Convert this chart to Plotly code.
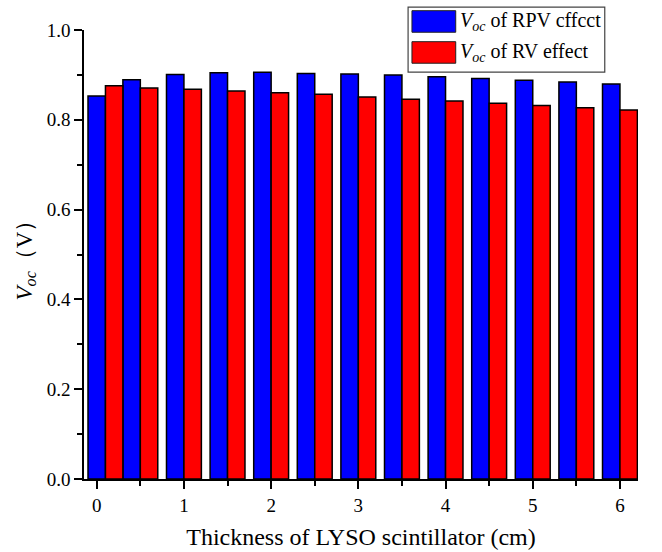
import plotly.graph_objects as go

thickness = [0.1, 0.5, 1, 1.5, 2, 2.5, 3, 3.5, 4, 4.5, 5, 5.5, 6]
voc_rpv = [0.853, 0.889, 0.901, 0.905, 0.906, 0.903, 0.902, 0.900, 0.896, 0.892, 0.888, 0.884, 0.880]
voc_rv = [0.876, 0.871, 0.868, 0.864, 0.860, 0.857, 0.851, 0.846, 0.842, 0.837, 0.832, 0.827, 0.822]
series_names = ["<i>V</i><sub><i>oc</i></sub> of RPV cffcct", "<i>V</i><sub><i>oc</i></sub> of RV effect"]
series_colors = ["#0000FF", "#FF0000"]

FONT = "Liberation Serif"

fig = go.Figure()
fig.add_trace(go.Bar(x=thickness, y=voc_rpv, name=series_names[0], width=0.2, offset=-0.2,
                     marker=dict(color=series_colors[0], line=dict(color="black", width=1.5)),
                     showlegend=False))
fig.add_trace(go.Bar(x=thickness, y=voc_rv, name=series_names[1], width=0.2, offset=0.0,
                     marker=dict(color=series_colors[1], line=dict(color="black", width=1.5)),
                     showlegend=False))

axis_common = dict(showgrid=False, zeroline=False, showline=True, linecolor="black", linewidth=1.6,
                   ticks="outside", ticklen=8, tickwidth=1.5, tickcolor="black",
                   tickfont=dict(family=FONT, size=19, color="black"))

fig.update_xaxes(range=[-0.146, 6.207], tick0=0, dtick=1, **axis_common,
                 minor=dict(dtick=0.5, ticklen=5, tickwidth=1.5, tickcolor="black", ticks="outside"),
                 title=dict(text="Thickness of LYSO scintillator (cm)",
                            font=dict(family=FONT, size=24, color="black"), standoff=14))
fig.update_yaxes(range=[0, 1.0], tick0=0, dtick=0.2, tickformat=".1f", **axis_common,
                 minor=dict(dtick=0.1, ticklen=5, tickwidth=1.5, tickcolor="black", ticks="outside"),
                 title=dict(text="<i>V</i><sub><i>oc</i></sub>（V）",
                            font=dict(family=FONT, size=23, color="black"), standoff=8))

# legend drawn by hand to mimic the large swatches of the original
shapes = [
    dict(type="rect", xref="paper", yref="paper", x0=0.585, x1=0.940, y0=0.906, y1=1.051,
         line=dict(color="#444444", width=1.2), fillcolor="white", layer="above"),
]
swatch_y = [(0.995, 1.043), (0.926, 0.974)]
text_y = [1.019, 0.950]
annotations = []
for i in range(2):
    shapes.append(dict(type="rect", xref="paper", yref="paper", x0=0.592, x1=0.671,
                       y0=swatch_y[i][0], y1=swatch_y[i][1],
                       line=dict(color="#222222", width=1), fillcolor=series_colors[i], layer="above"))
    annotations.append(dict(xref="paper", yref="paper", x=0.675, y=text_y[i], xanchor="left",
                            yanchor="middle", showarrow=False, text=series_names[i],
                            font=dict(family=FONT, size=20, color="black")))

fig.update_layout(
    width=662, height=552,
    margin=dict(l=84, r=24, t=30, b=73, autoexpand=False),
    paper_bgcolor="white", plot_bgcolor="white",
    font=dict(family=FONT, color="black"),
    barmode="overlay",
    shapes=shapes, annotations=annotations,
    showlegend=False,
)

fig.write_html("out.html")
